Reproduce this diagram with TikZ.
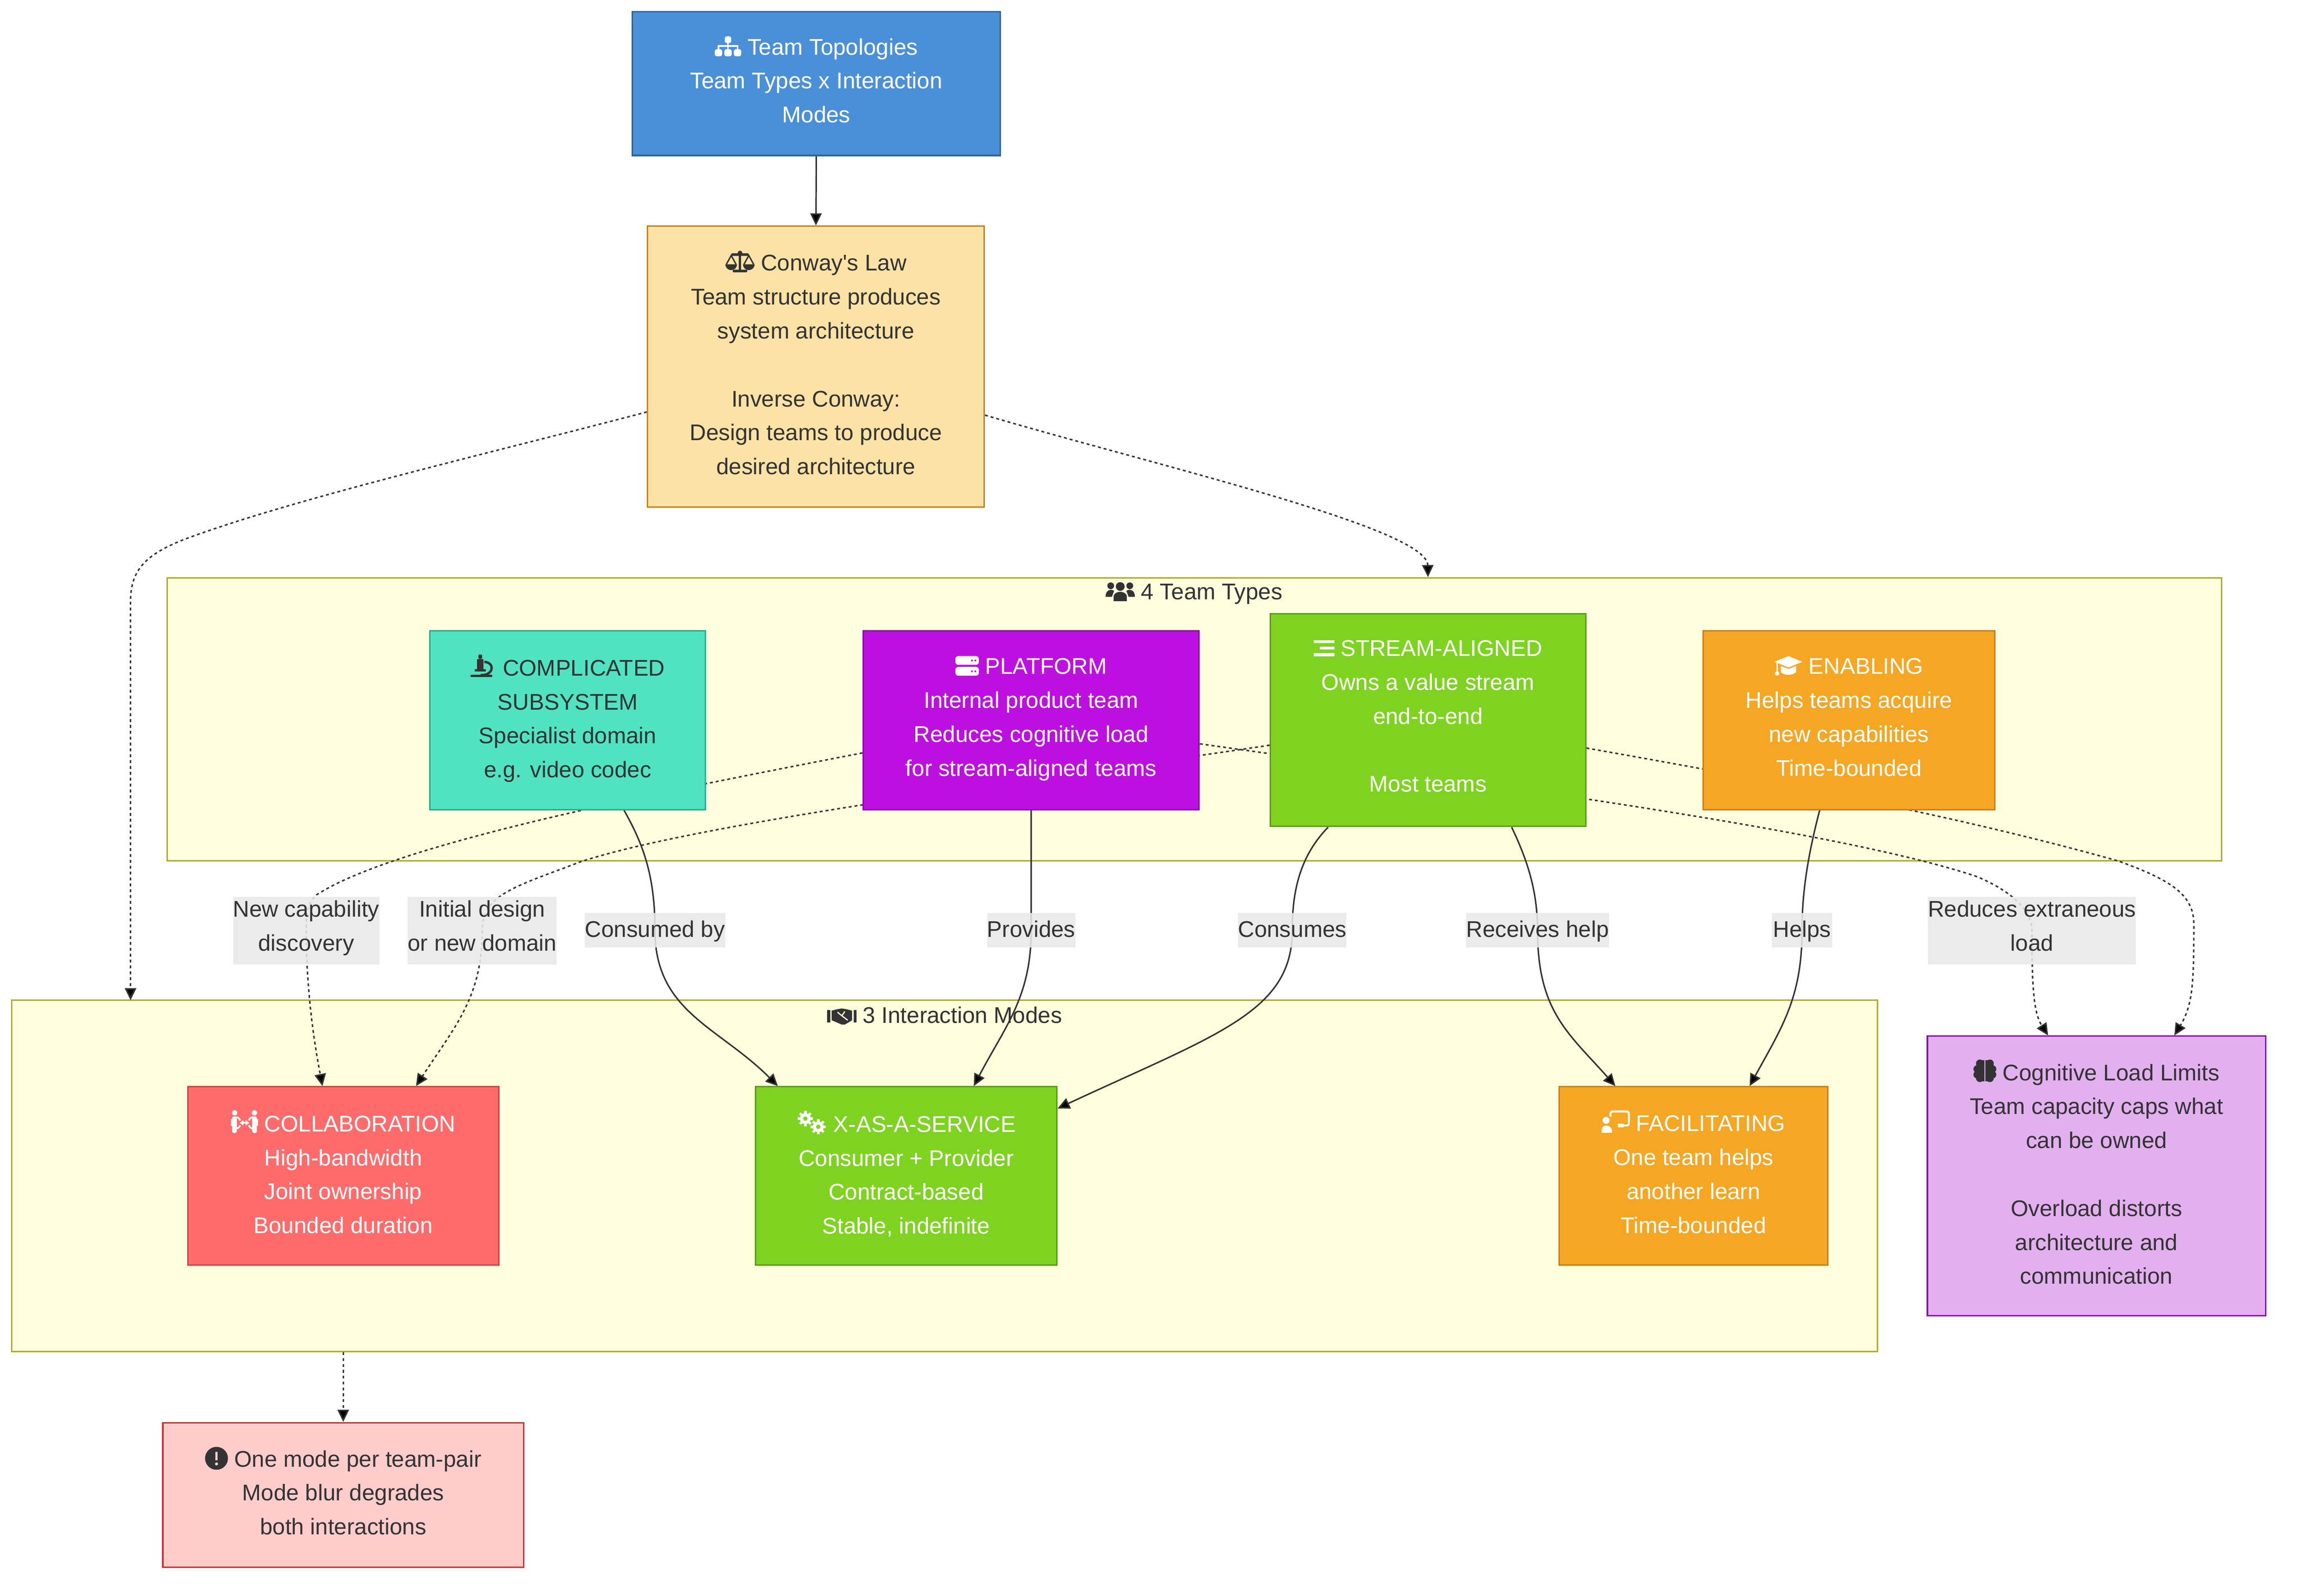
\documentclass[tikz,border=0pt]{standalone}
\usepackage{fontspec}
\setmainfont[Ligatures=TeXOff]{Liberation Sans}
\usetikzlibrary{arrows.meta}

\definecolor{ink}{HTML}{333333}
\definecolor{topfill}{HTML}{4A90D9}
\definecolor{topline}{HTML}{2E6594}
\definecolor{lawfill}{HTML}{FCE2A5}
\definecolor{lawline}{HTML}{C87F1A}
\definecolor{compfill}{HTML}{50E3C2}
\definecolor{compline}{HTML}{2BA88E}
\definecolor{platfill}{HTML}{BD10E0}
\definecolor{platline}{HTML}{8B0CA8}
\definecolor{streamfill}{HTML}{7ED321}
\definecolor{streamline}{HTML}{5A9A18}
\definecolor{enabfill}{HTML}{F5A623}
\definecolor{enabline}{HTML}{C77F1A}
\definecolor{collabfill}{HTML}{FF6B6B}
\definecolor{collabline}{HTML}{CC4444}
\definecolor{warnfill}{HTML}{FFCCCC}
\definecolor{warnline}{HTML}{CC3333}
\definecolor{cogfill}{HTML}{E3B0EF}
\definecolor{cogline}{HTML}{9010AC}
\definecolor{groupfill}{HTML}{FFFFDE}
\definecolor{groupline}{HTML}{AAAA33}
\definecolor{tagfill}{HTML}{E8E8E8}

\pgfdeclarelayer{groups}
\pgfdeclarelayer{edges}
\pgfsetlayers{groups,edges,main}

\tikzset{
	icon/.style={baseline=0.75pt,x=0.75pt,y=0.75pt},
	boxsize/.style 2 args={minimum width=#1*0.75pt,minimum height=#2*0.75pt},
	box/.style={rectangle,draw,line width=0.75pt,inner sep=0pt,align=center,
		font=\fontsize{11.6pt}{17.35pt}\selectfont,
		execute at begin node=\rule{0pt}{12pt},execute at end node=\rule[-4.2pt]{0pt}{4.2pt}},
	topbox/.style={box,fill=topfill,draw=topline,text=white},
	lawbox/.style={box,fill=lawfill,draw=lawline,text=ink},
	compbox/.style={box,fill=compfill,draw=compline,text=ink},
	platbox/.style={box,fill=platfill,draw=platline,text=white},
	streambox/.style={box,fill=streamfill,draw=streamline,text=white},
	enabbox/.style={box,fill=enabfill,draw=enabline,text=white},
	collabbox/.style={box,fill=collabfill,draw=collabline,text=white},
	warnbox/.style={box,fill=warnfill,draw=warnline,text=ink},
	cogbox/.style={box,fill=cogfill,draw=cogline,text=ink},
	groupbox/.style={rectangle,draw=groupline,fill=groupfill,line width=0.75pt,inner sep=0pt},
	grouptitle/.style={inner sep=0pt,text=ink,font=\fontsize{11.6pt}{17.35pt}\selectfont},
	tag/.style={inner sep=0pt,align=center,text=ink,fill=tagfill,fill opacity=0.88,text opacity=1,
		font=\fontsize{11.6pt}{17.35pt}\selectfont,
		execute at begin node=\rule{0pt}{12pt},execute at end node=\rule[-5pt]{0pt}{5pt}},
	tagtwo/.style={tag,execute at end node=\rule[-2pt]{0pt}{2pt}},
	flow/.style={draw=ink,line width=0.75pt,-{Triangle[length=6.2pt,width=5.8pt]}},
	dotflow/.style={flow,dash pattern=on 1.5pt off 1.5pt},
}

% small glyphs, drawn as pictures inside the node texts
\newcommand{\newicon}[2]{\newcommand{#1}{{\pgfsetlayers{main}\tikz[icon]{#2}}}}
\newicon{\iconsitemap}{
	\fill[white,rounded corners=1] (6.8,9) rectangle (11.2,13.6);
	\fill[white,rounded corners=1] (0,0) rectangle (5,4.8);
	\fill[white,rounded corners=1] (6.5,0) rectangle (11.5,4.8);
	\fill[white,rounded corners=1] (13,0) rectangle (18,4.8);
	\draw[white,line width=0.75pt] (9,9.5) -- (9,4.5) (2.5,4.5) -- (2.5,7) -- (15.5,7) -- (15.5,4.5);
}
\newicon{\iconscale}{
	\fill[ink] (9.2,1) rectangle (10.8,13);
	\fill[ink,rounded corners=0.6] (5,0) rectangle (15,1.8);
	\fill[ink,rounded corners=0.6] (4,11.2) rectangle (16,13);
	\fill[ink] (10,13.2) circle[radius=1.6];
	\fill[ink] (0,5.5) arc[start angle=180,end angle=360,radius=4] -- cycle;
	\fill[ink] (12,5.5) arc[start angle=180,end angle=360,radius=4] -- cycle;
	\draw[ink,line width=0.7pt] (0.7,5.5) -- (4,11.5) -- (7.3,5.5) (12.7,5.5) -- (16,11.5) -- (19.3,5.5);
}
\newicon{\iconusers}{
	\fill[ink] (10,10) circle[radius=3];
	\fill[ink] (5.5,0) -- (5.5,3) .. controls (5.5,7.5) and (14.5,7.5) .. (14.5,3) -- (14.5,0) -- cycle;
	\fill[ink] (3.5,10.5) circle[radius=2.3];
	\fill[ink] (16.5,10.5) circle[radius=2.3];
	\fill[ink] (0,3) .. controls (0,8) and (4,8.5) .. (5.8,7) -- (4.3,3) -- cycle;
	\fill[ink] (20,3) .. controls (20,8) and (16,8.5) .. (14.2,7) -- (15.7,3) -- cycle;
}
\newicon{\iconscope}{
	\fill[ink] (0,0) rectangle (15,1.6);
	\fill[ink] (3,4) rectangle (10.5,5.5);
	\fill[ink] (4.5,5.5) rectangle (9,12.5);
	\fill[ink,rounded corners=0.6] (5.5,12.5) rectangle (8,15.5);
	\draw[ink,line width=1.2pt] (9.5,10.5) .. controls (17,10) and (16,1) .. (7,1.5);
}
\newicon{\iconserver}{
	\fill[white,rounded corners=1.5,even odd rule] (0,0) rectangle (16,6) (0,7.4) rectangle (16,13.4)
		(11.3,3) circle[radius=0.7] (13.6,3) circle[radius=0.7]
		(11.3,10.4) circle[radius=0.7] (13.6,10.4) circle[radius=0.7];
}
\newicon{\iconbars}{
	\fill[white] (0,1) rectangle (14,3);
	\fill[white] (4,5.5) rectangle (14,7.5);
	\fill[white] (0,10) rectangle (14,12);
}
\newicon{\iconcap}{
	\fill[white] (10,13.4) -- (19.5,9.5) -- (10,5.6) -- (0.5,9.5) -- cycle;
	\fill[white] (4.8,6.6) -- (10,4.6) -- (15.2,6.6) -- (15.2,2.5) .. controls (13,0) and (7,0) .. (4.8,2.5) -- cycle;
	\fill[white] (1.8,9) rectangle (2.9,3);
	\fill[white] (2.3,1.5) circle[radius=1.5];
}
\newicon{\iconhands}{
	\fill[ink] (0,1.5) rectangle (2,10);
	\fill[ink] (18,1.5) rectangle (20,10);
	\fill[ink] (3,9.5) -- (7,10.5) -- (10,11) -- (13,10.5) -- (17,9.5) -- (17,3) -- (12,0) -- (10,0) -- (3,3) -- cycle;
	\draw[groupfill,line width=0.6pt] (7,8.5) -- (10,6) -- (14,3) (10,6) -- (12,9);
}
\newicon{\iconpeople}{
	\fill[white] (2.5,13.8) circle[radius=1.8];
	\fill[white] (16,13.8) circle[radius=1.8];
	\fill[white,rounded corners=1] (0.8,0) rectangle (4,11.4);
	\fill[white,rounded corners=1] (14.5,0) rectangle (17.7,11.4);
	\fill[white] (0,5) rectangle (1.4,9.5);
	\fill[white] (17,5) rectangle (18.5,9.5);
	\draw[white,line width=0.9pt] (3.5,11) .. controls (5.5,10.5) and (6,9.5) .. (6.2,8.6)
		(15,11) .. controls (13,10.5) and (12.5,9.5) .. (12.3,8.6)
		(3.5,3) .. controls (5.5,3.5) and (6,4.5) .. (6.2,5.4)
		(15,3) .. controls (13,3.5) and (12.5,4.5) .. (12.3,5.4);
	\draw[white,line width=0.8pt,{Triangle[length=1.8pt,width=2.6pt]}-{Triangle[length=1.8pt,width=2.6pt]}] (6,7) -- (12.5,7);
}
\newicon{\icongears}{
	\draw[white,line width=1.6pt] (5.5,10.2) circle[radius=2.6];
	\draw[white,line width=1.6pt] (14.3,4.6) circle[radius=2.6];
	\foreach \tooth in {0,45,...,315} {
		\draw[white,line width=1.3pt] (5.5,10.2) ++(\tooth:3) -- ++(\tooth:2.2);
		\draw[white,line width=1.3pt] (14.3,4.6) ++(\tooth:3) -- ++(\tooth:2.2);
	}
}
\newicon{\iconboard}{
	\draw[white,line width=1pt,rounded corners=1] (6,11) -- (6,14.6) -- (18.5,14.6) -- (18.5,5) -- (14,5);
	\fill[white] (11,3.8) rectangle (15,6.4);
	\fill[white] (3,8.5) circle[radius=2.4];
	\fill[white] (0,0) -- (0,2) .. controls (0,6) and (6,6) .. (7,2) -- (7,0) -- cycle;
}
\newicon{\iconbrain}{
	\fill[ink] (4.4,12.6) circle[radius=2.7];
	\fill[ink] (2.6,8.8) circle[radius=2.6];
	\fill[ink] (2.6,5) circle[radius=2.6];
	\fill[ink] (4.4,2.6) circle[radius=2.7];
	\fill[ink] (4,0.5) rectangle (7.4,15);
	\fill[ink] (11.2,12.6) circle[radius=2.7];
	\fill[ink] (13,8.8) circle[radius=2.6];
	\fill[ink] (13,5) circle[radius=2.6];
	\fill[ink] (11.2,2.6) circle[radius=2.7];
	\fill[ink] (8.2,0.5) rectangle (11.6,15);
}
\newicon{\iconbang}{
	\fill[ink,even odd rule] (7.8,6.8) circle[radius=7.8] (7,5.4) rectangle (8.6,11.2) (7.8,3) circle[radius=1.1];
}

\begin{document}
\begin{tikzpicture}[x=0.75pt,y=-0.75pt]
	\useasboundingbox (0,0) rectangle (1568,1088);

	% groups
	\begin{pgfonlayer}{groups}
		\node[groupbox,boxsize={1400.5}{193}] (types) at (814.25,490.5) {};
		\node[groupbox,boxsize={1272}{239.5}] (modes) at (644,801.75) {};
		\node[grouptitle] (typestitle) at (814,404.5) {\iconusers{} 4 Team Types};
		\node[grouptitle] (modestitle) at (644,692.5) {\iconhands{} 3 Interaction Modes};
	\end{pgfonlayer}
	\coordinate (modesin) at (89,682);

	% boxes
	\node[topbox,boxsize={251}{98}] (topo) at (556.5,57) {\iconsitemap{} Team Topologies\\Team Types x Interaction\hspace*{3.2pt}\\Modes};
	\node[lawbox,boxsize={229.5}{191.5}] (law) at (556.25,250) {\iconscale{} Conway's Law\\Team structure produces\\system architecture\\[17.35pt]Inverse Conway:\\Design teams to produce\\desired architecture};
	\node[compbox,boxsize={188}{122}] (comp) at (387,491) {\iconscope{} COMPLICATED\\SUBSYSTEM\\Specialist domain\\e.g. video codec};
	\node[platbox,boxsize={229}{122}] (plat) at (703,491) {\iconserver{} PLATFORM\\Internal product team\\Reduces cognitive load\\for stream-aligned teams};
	\node[streambox,boxsize={215}{145}] (stream) at (973.5,491) {\iconbars{} STREAM-ALIGNED\\Owns a value stream\\end-to-end\\[17.35pt]Most teams};
	\node[enabbox,boxsize={199}{122}] (enab) at (1260.5,491) {\iconcap{} ENABLING\\Helps teams acquire\\new capabilities\\Time-bounded};
	\node[collabbox,boxsize={212}{121.5}] (collab) at (234,801.75) {\iconpeople{} COLLABORATION\\High-bandwidth\\Joint ownership\\Bounded duration};
	\node[streambox,boxsize={205.5}{121.5}] (xaas) at (617.75,801.75) {\icongears{} X-AS-A-SERVICE\\Consumer + Provider\\Contract-based\\Stable, indefinite};
	\node[enabbox,boxsize={183}{121.5}] (facil) at (1154.5,801.75) {\iconboard{} FACILITATING\\One team helps\\another learn\\Time-bounded};
	\node[warnbox,boxsize={246}{98.5}] (warn) at (234,1019.25) {\iconbang{} One mode per team-pair\\Mode blur degrades\\both interactions};
	\node[cogbox,boxsize={230.5}{190.5}] (cog) at (1429.25,801.75) {\iconbrain{} Cognitive Load Limits\\Team capacity caps what\\can be owned\\[17.35pt]Overload distorts\\architecture and\\communication};

	% edge labels
	\node[tagtwo,boxsize={99.5}{46}] (tagnew) at (208.75,634.5) {New capability\\discovery};
	\node[tagtwo,boxsize={101.5}{46}] (taginit) at (328.75,634.5) {Initial design\\or new domain};
	\node[tag,boxsize={96}{23.5}] (tagused) at (446.5,634.25) {Consumed by};
	\node[tag,boxsize={60}{23.5}] (tagprov) at (703,634.25) {Provides};
	\node[tag,boxsize={74}{23.5}] (tagcons) at (881,634.25) {Consumes};
	\node[tag,boxsize={97.5}{23.5}] (tagrecv) at (1048.25,634.25) {Receives help};
	\node[tag,boxsize={41}{23.5}] (taghelp) at (1228.5,634.25) {Helps};
	\node[tagtwo,boxsize={141.5}{46}] (tagload) at (1385.25,634.5) {Reduces extraneous\\load};

	% edges
	\begin{pgfonlayer}{edges}
		\draw[flow] (topo.south) -- (law.north);
		\draw[dotflow] (law.-16) .. controls (790,318) and (973,360) .. (stream.north |- types.north);
		\draw[dotflow] (law.-165.8) .. controls (330,310) and (200,340) .. (125,368) .. controls (100,378) and (89,388) .. (89,410) -- (modesin);
		\draw[dotflow] (warn.north |- modes.south) -- (warn.north);

		\draw[dotflow] (plat.-169.1) .. controls (450,540) and (270,575) .. (216,610) .. controls (210,615) and (208.75,622) .. (tagnew.center) .. controls (208.75,670) and (213,705) .. (collab.103);
		\draw[dotflow] (stream.-171.5) .. controls (720,530) and (480,560) .. (396,587.5) .. controls (350,605) and (328.75,610) .. (taginit.center) .. controls (328.75,680) and (310,700) .. (collab.51.7);
		\draw[dotflow] (plat.-8) .. controls (1000,533) and (1250,565) .. (1347.5,597.6) .. controls (1370,607) and (1385.25,620) .. (tagload.center) .. controls (1385.25,670) and (1386,690) .. (cog.109.8);
		\draw[dotflow] (stream.-10.3) .. controls (1200,531) and (1330,555) .. (1444,587) .. controls (1480,600) and (1495.6,610) .. (1495.6,630) .. controls (1495.6,670) and (1495,685) .. (cog.61);

		\draw[flow] (comp.-58.8) .. controls (440,578) and (446.5,600) .. (tagused.center) .. controls (446.5,690) and (490,700) .. (xaas.145.6);
		\draw[flow] (plat.south) -- (tagprov.center) .. controls (703,680) and (685,700) .. (xaas.53.9);
		\draw[flow] (stream.-133.8) .. controls (885,585) and (881,610) .. (tagcons.center) .. controls (881,690) and (830,705) .. (xaas.24.5);
		\draw[flow] (stream.-52.1) .. controls (1043,590) and (1048,610) .. (tagrecv.center) .. controls (1048,690) and (1070,705) .. (facil.131.9);
		\draw[flow] (enab.-108.6) .. controls (1232,585) and (1228.5,610) .. (taghelp.center) .. controls (1228.5,680) and (1215,700) .. (facil.58);
	\end{pgfonlayer}
\end{tikzpicture}
\end{document}
